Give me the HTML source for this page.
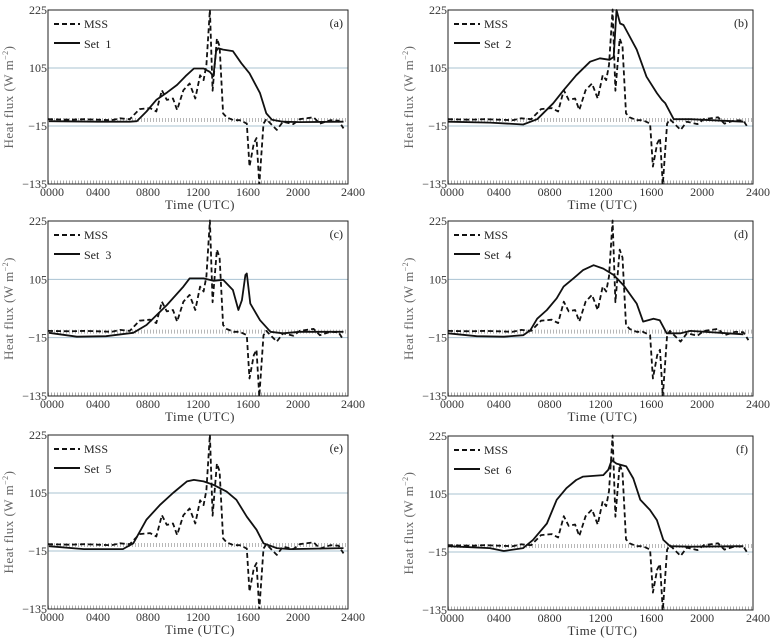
<!DOCTYPE html>
<html><head><meta charset="utf-8"><style>
html,body{margin:0;padding:0;background:#fff;}
svg{display:block;font-family:"Liberation Serif",serif;}
</style></head><body>
<svg id="chart" width="773" height="643" viewBox="0 0 773 643" xmlns="http://www.w3.org/2000/svg"></svg>
<script>
// Time in hours UTC (x axis), values in W m^-2
const mssT = [0,1.75,2.87,3.98,5.1,5.76,6.54,7.32,8.16,8.66,9.11,9.5,10.0,10.33,10.83,11.33,11.78,12.17,12.45,12.67,12.95,13.17,13.51,13.73,14.01,14.29,14.84,15.34,15.9,16.12,16.46,16.68,16.9,17.24,17.46,18.3,18.8,19.63,20.13,21.25,21.75,22.6,23.25,23.64];
const mssV = [-1,-2,-1,-2,-3,1,-1,20,22,15,59,39,42,18,59,73,42,90,80,111,226,58,166,150,11,3,-3,-3,-10,-99,-51,-40,-136,-10,-1,-23,-6,-11,-1,3,-10,-3,-4,-20];
const set1T = [0.08,3.98,6.54,7.1,7.88,8.66,9.55,10.33,11.0,11.67,12.45,12.95,13.23,13.45,13.62,14.01,14.79,15.46,16.12,16.96,17.46,17.91,18.8,20.13,23.64];
const set1V = [-5,-6,-6,-5,15,39,55,70,88,104,104,97,88,140,146,143,140,115,94,53,11,-2,-6,-7,-6];
const set2T = [0,3.29,5.92,7.02,8.28,9.1,10.09,11.18,11.95,12.72,13.04,13.26,13.54,13.81,14.85,15.62,16.44,16.83,17.1,17.76,19.07,23.24];
const set2V = [-6,-8,-12,-1,32,59,90,118,125,122,128,225,197,194,143,87,53,39,32,-1,-1,-6];
const set3T = [0.08,2.31,4.65,6.82,7.88,9.5,10.83,11.33,12.45,13.23,14.01,14.79,15.23,15.51,15.79,15.9,16.18,16.96,17.8,18.8,20.13,23.64];
const set3V = [-5,-13,-12,-5,11,52,90,107,107,102,104,83,42,62,114,117,55,21,-3,-6,-3,-3];
const set4T = [0,2.25,4.39,5.92,6.47,7.02,7.78,8.55,9.1,9.87,10.63,11.46,12.22,13.04,13.81,14.85,15.35,16.17,16.66,17.21,18.31,19.07,23.24];
const set4V = [-6,-12,-13,-10,0,24,42,66,90,107,124,134,127,114,93,55,18,24,21,-6,-6,-1,-8];
const set5T = [0.08,2.87,5.99,6.82,7.88,8.94,10.0,11.11,11.67,12.45,13.23,14.29,15.07,15.9,16.68,17.24,18.3,19.36,23.64];
const set5V = [-5,-11,-11,1,50,80,105,129,132,129,122,108,91,56,29,1,-9,-11,-9];
const set6T = [0,3.29,4.39,5.92,6.69,7.78,8.55,9.32,10.09,10.63,12.22,12.61,12.88,13.26,14.03,14.58,15.13,15.89,16.44,16.94,17.48,19.07,23.24];
const set6V = [-3,-7,-13,-7,10,44,93,117,134,141,144,155,175,168,162,137,93,72,51,10,-3,-4,-3];
const yTicks = [225,105,-15,-135];
const xTickLabels = ["0000","0400","0800","1200","1600","2000","2400"];
const setsT = [set1T,set2T,set3T,set4T,set5T,set6T];
const setsV = [set1V,set2V,set3V,set4V,set5V,set6V];
const letters = ["(a)","(b)","(c)","(d)","(e)","(f)"];

const NS="http://www.w3.org/2000/svg";
const svg=document.getElementById('chart');
function mk(tag,attrs,parent){const e=document.createElementNS(NS,tag);for(const k in attrs)e.setAttribute(k,attrs[k]);(parent||svg).appendChild(e);return e;}

const panels=[
 {l:48,r:348,t:10,b:184},{l:448,r:753,t:10,b:184},
 {l:48,r:348,t:221,b:396},{l:448,r:753,t:221,b:396},
 {l:48,r:348,t:435,b:609},{l:448,r:753,t:436,b:610}];

panels.forEach((p,i)=>{
  const g=mk('g',{});
  
  
  const ys=v=>p.t+(225-v)*(p.b-p.t)/360;
  const xs=h=>p.l+h*(p.r-p.l)/24;
  const cid='clip'+i;
  const cp=mk('clipPath',{id:cid},g); mk('rect',{x:p.l,y:p.t-2,width:p.r-p.l,height:p.b-p.t+2},cp);
  [105,-15].forEach(v=>{const ln=mk('line',{x1:p.l,x2:p.r,y1:ys(v),y2:ys(v),stroke:'#a9c3d2','stroke-width':1},g);
    });
  const hz=mk('line',{x1:p.l,x2:p.r,y1:ys(-2.5),y2:ys(-2.5),stroke:'#b8b8b8','stroke-width':4,'stroke-dasharray':'1 2'},g);
  
  mk('line',{x1:p.l,x2:p.r,y1:p.b-2,y2:p.b-2,stroke:'#aaa','stroke-width':3,'stroke-dasharray':'1 2'},g);
  const fr=mk('rect',{x:p.l,y:p.t,width:p.r-p.l,height:p.b-p.t,fill:'none',stroke:'#222','stroke-width':1},g);
  
  yTicks.forEach(v=>{const t=mk('text',{x:p.l-1,y:ys(v)+4,'text-anchor':'end','font-size':12,fill:'#333'},g);t.textContent=v<0?'\u2212'+(-v):v;
    });
  xTickLabels.forEach((s,k)=>{const t=mk('text',{x:xs(k*4)+(k==0?4:(k==6?5:0)),y:p.b+12,'text-anchor':'middle','font-size':12,fill:'#333'},g);t.textContent=s;
    });
  const xt=mk('text',{x:(p.l+p.r)/2+2,y:p.b+25,'text-anchor':'middle','font-size':13,fill:'#333','letter-spacing':'0.5'},g);xt.textContent='Time (UTC)';
  
  const yt=mk('text',{x:0,y:0,'text-anchor':'middle','font-size':13,fill:'#666','letter-spacing':'0.5',transform:`translate(${p.l-35},${(p.t+p.b)/2}) rotate(-90)`},g);
  yt.innerHTML='Heat flux (W m<tspan font-size="8" dy="-5">\u22122</tspan><tspan dy="5">)</tspan>';
  
  const pts=(T,V)=>T.map((h,k)=>xs(h).toFixed(1)+','+ys(V[k]).toFixed(1)).join(' ');
  const s=mk('polyline',{points:pts(setsT[i],setsV[i]),fill:'none',stroke:'#111','stroke-width':1.8,'stroke-linejoin':'round','clip-path':`url(#${cid})`},g);
  
  const m=mk('polyline',{points:pts(mssT,mssV),fill:'none',stroke:'#111','stroke-width':1.8,'stroke-dasharray':'5 3','stroke-linejoin':'round','clip-path':`url(#${cid})`},g);
  
  const lg=mk('g',{},g);
  mk('line',{x1:p.l+6,x2:p.l+32,y1:p.t+14,y2:p.t+14,stroke:'#111','stroke-width':2,'stroke-dasharray':'5 3'},lg);
  const lt1=mk('text',{x:p.l+36,y:p.t+18,'font-size':12,fill:'#222'},lg);lt1.textContent='MSS';
  
  mk('line',{x1:p.l+6,x2:p.l+32,y1:p.t+33,y2:p.t+33,stroke:'#111','stroke-width':2},lg);
  const lt2=mk('text',{x:p.l+36,y:p.t+38,'font-size':12,fill:'#222','xml:space':'preserve'},lg);lt2.textContent='Set\u00a0\u00a0'+(i+1);
  
  const pl=mk('text',{x:p.r-5,y:p.t+17,'text-anchor':'end','font-size':12,fill:'#222'},g);pl.textContent=letters[i];
  
});
</script>
</body></html>
